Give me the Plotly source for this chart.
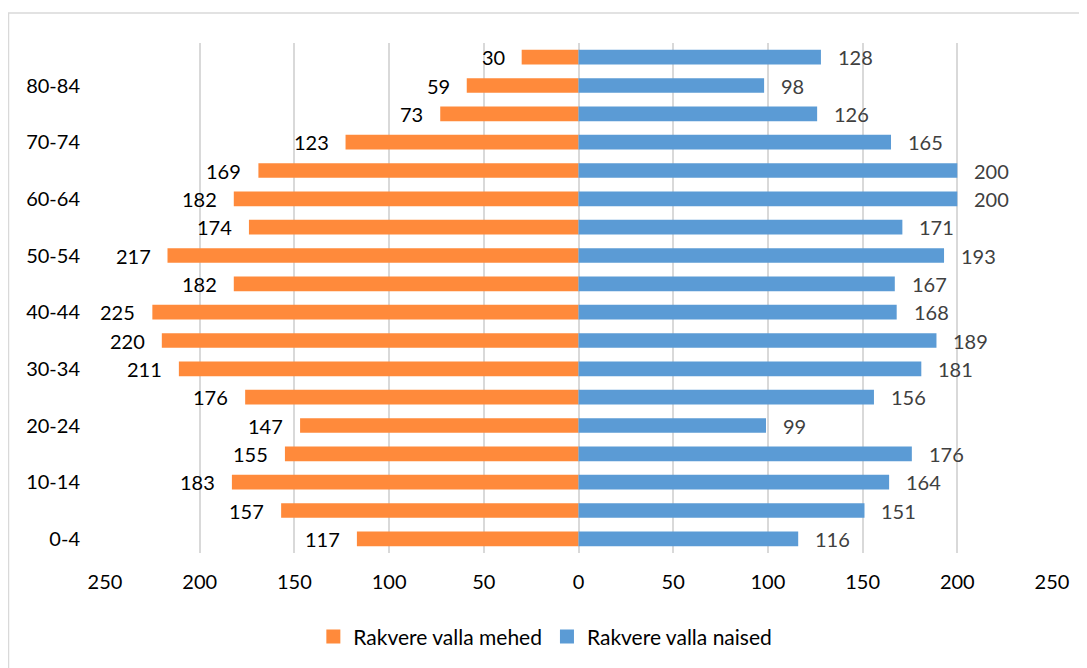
import plotly.graph_objects as go

age_groups = ["0-4", "5-9", "10-14", "15-19", "20-24", "25-29", "30-34", "35-39",
              "40-44", "45-49", "50-54", "55-59", "60-64", "65-69", "70-74", "75-79",
              "80-84", "85+"]
men = [117, 157, 183, 155, 147, 176, 211, 220, 225, 182, 217, 174, 182, 169, 123, 73, 59, 30]
women = [116, 151, 164, 176, 99, 156, 181, 189, 168, 167, 193, 171, 200, 200, 165, 126, 98, 128]
x_ticks = [-250, -200, -150, -100, -50, 0, 50, 100, 150, 200, 250]
x_tick_labels = ["250", "200", "150", "100", "50", "0", "50", "100", "150", "200", "250"]
y_tick_cats = [age_groups[i] for i in range(0, 17, 2)]
series_names = ["Rakvere valla mehed", "Rakvere valla naised"]

ORANGE = "#FF8A3B"
BLUE = "#5B9BD5"
FONT = "Lato, Carlito, Calibri, sans-serif"
FS = 20

# page has an 8px body margin
W, H = 1079, 660
ML, MR, MT, MB = 97, 35, 35, 114
pw, ph = W - ML - MR, H - MT - MB

fig = go.Figure()
fig.add_trace(go.Bar(
    y=age_groups, x=[-v for v in men], orientation="h",
    name=series_names[0], marker=dict(color=ORANGE, line=dict(width=0)),
    hoverinfo="skip", showlegend=False,
))
fig.add_trace(go.Bar(
    y=age_groups, x=women, orientation="h",
    name=series_names[1], marker=dict(color=BLUE, line=dict(width=0)),
    hoverinfo="skip", showlegend=False,
))
# legend entries with larger square swatches
for nm, col in zip(series_names, [ORANGE, BLUE]):
    fig.add_trace(go.Scatter(
        x=[None], y=[None], mode="markers", name=nm,
        marker=dict(symbol="square", size=14, color=col, line=dict(width=0)),
        hoverinfo="skip", showlegend=True,
    ))

annotations = []
for cat, v in zip(age_groups, men):
    annotations.append(dict(x=-v, y=cat, xref="x", yref="y", text=str(v),
                            showarrow=False, xanchor="right", xshift=-15,
                            font=dict(family=FONT, size=FS, color="#000000")))
for cat, v in zip(age_groups, women):
    annotations.append(dict(x=v, y=cat, xref="x", yref="y", text=str(v),
                            showarrow=False, xanchor="left", xshift=15,
                            font=dict(family=FONT, size=FS, color="#404040")))

# chart border (only top and left visible in the frame)
shapes = [dict(type="rect", xref="paper", yref="paper",
               x0=(0.5 - ML) / pw, x1=1 + (MR + 20) / pw,
               y0=-(MB + 20) / ph, y1=1 + (MT - 5) / ph,
               line=dict(color="#D9D9D9", width=1.5), fillcolor="rgba(0,0,0,0)", layer="below")]

fig.update_layout(
    width=W, height=H,
    margin=dict(l=ML, r=MR, t=MT, b=MB),
    paper_bgcolor="white", plot_bgcolor="white",
    barmode="relative", bargap=0.48,
    font=dict(family=FONT, size=FS, color="#000000"),
    showlegend=True,
    legend=dict(orientation="h", x=0.465, xanchor="center", y=-0.162, yanchor="middle",
                font=dict(family=FONT, size=21, color="#000000"),
                itemwidth=30, traceorder="normal"),
    annotations=annotations,
    shapes=shapes,
    xaxis=dict(range=[-250, 250], tickvals=x_ticks, ticktext=x_tick_labels,
               showgrid=True, gridcolor="#D9D9D9", gridwidth=1.5, zeroline=False,
               showline=False, ticks="", ticklabelstandoff=15,
               tickfont=dict(family=FONT, size=FS, color="#000000"), fixedrange=True),
    yaxis=dict(type="category", categoryorder="array", categoryarray=age_groups,
               tickvals=y_tick_cats, ticktext=y_tick_cats,
               showgrid=False, zeroline=False, showline=False, ticks="",
               ticklabelstandoff=24, range=[-0.5, len(age_groups) - 0.5],
               tickfont=dict(family=FONT, size=FS, color="#000000"), fixedrange=True),
)

fig.write_html("out.html")
